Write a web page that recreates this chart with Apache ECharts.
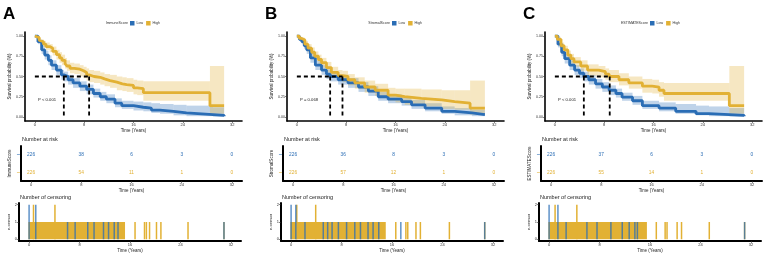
<!DOCTYPE html>
<html>
<head>
<meta charset="utf-8">
<script src="https://cdn.jsdelivr.net/npm/echarts@6.0.0/dist/echarts.min.js"></script>
<style>
  html, body { margin: 0; padding: 0; background: #fff; }
  #chart { width: 772px; height: 258px; }
</style>
</head>
<body>
<div id="chart"></div>
<script>
const LOW = '#2a6db5';
const HIGH = '#e2b134';

const panelLetters = ['A', 'B', 'C'];
const scoreNames = ['ImmuneScore', 'StromalScore', 'ESTIMATEScore'];
const pValues = ['P < 0.001', 'P = 0.068', 'P < 0.001'];
const groups = ['Low', 'High'];
const timeTicks = [0, 8, 16, 24, 32];
const survTicks = [0, 0.25, 0.5, 0.75, 1];
const censorTicks = [0, 1, 2];
const riskTimes = [0, 8, 16, 24, 32];

// KM curves: [time, survival, lower CI, upper CI]
const kmLowA = [
  [0, 1, 1, 1], [0.5, 0.93, 0.90, 0.96], [1.1, 0.83, 0.78, 0.88], [1.6, 0.765, 0.71, 0.82],
  [2.2, 0.70, 0.64, 0.76], [2.7, 0.64, 0.58, 0.70], [3.5, 0.58, 0.52, 0.64], [4.3, 0.52, 0.46, 0.58],
  [4.7, 0.50, 0.44, 0.56], [5.4, 0.46, 0.40, 0.52], [6.2, 0.42, 0.36, 0.48], [7.3, 0.38, 0.32, 0.44],
  [8.4, 0.34, 0.28, 0.40], [9.5, 0.29, 0.24, 0.35], [10.6, 0.25, 0.20, 0.31], [11.6, 0.22, 0.17, 0.28],
  [13.0, 0.17, 0.12, 0.23], [14.1, 0.14, 0.10, 0.20], [16.0, 0.12, 0.08, 0.19], [17.6, 0.11, 0.07, 0.18],
  [18.9, 0.085, 0.05, 0.17], [20.3, 0.07, 0.04, 0.16], [22.5, 0.05, 0.02, 0.15], [24.6, 0.03, 0.01, 0.14],
  [28.9, 0.02, 0.005, 0.12], [30.7, 0.01, 0, 0.10]
];
const kmHighA = [
  [0, 1, 1, 1], [0.3, 0.98, 0.96, 1], [0.7, 0.95, 0.92, 0.98], [1.0, 0.93, 0.89, 0.96],
  [1.4, 0.90, 0.86, 0.94], [1.8, 0.87, 0.83, 0.92], [2.4, 0.85, 0.80, 0.90], [2.9, 0.81, 0.76, 0.87],
  [3.5, 0.77, 0.71, 0.83], [4.0, 0.73, 0.67, 0.80], [4.4, 0.70, 0.64, 0.77], [4.9, 0.66, 0.60, 0.73],
  [5.2, 0.63, 0.57, 0.70], [5.7, 0.60, 0.54, 0.67], [6.4, 0.59, 0.53, 0.66], [7.3, 0.57, 0.50, 0.64],
  [7.9, 0.55, 0.48, 0.62], [8.4, 0.52, 0.45, 0.60], [8.8, 0.50, 0.43, 0.58], [9.6, 0.49, 0.42, 0.57],
  [10.6, 0.47, 0.40, 0.55], [11.3, 0.45, 0.38, 0.53], [12.2, 0.43, 0.36, 0.52], [13.3, 0.41, 0.33, 0.50],
  [14.2, 0.40, 0.32, 0.49], [14.9, 0.39, 0.31, 0.48], [16.0, 0.36, 0.28, 0.46], [16.6, 0.35, 0.27, 0.45],
  [17.6, 0.30, 0.20, 0.44], [28.4, 0.14, 0.04, 0.63], [30.7, 0.14, 0.04, 0.63]
];
const kmLowB = [
  [0, 1, 1, 1], [0.4, 0.96, 0.94, 0.99], [0.8, 0.93, 0.90, 0.96], [1.2, 0.88, 0.84, 0.92],
  [1.6, 0.83, 0.78, 0.88], [2.2, 0.73, 0.67, 0.79], [3.0, 0.64, 0.58, 0.70], [4.0, 0.58, 0.52, 0.64],
  [4.8, 0.53, 0.47, 0.59], [5.4, 0.50, 0.44, 0.56], [6.7, 0.46, 0.40, 0.52], [8.3, 0.42, 0.36, 0.48],
  [10.0, 0.37, 0.31, 0.43], [11.6, 0.32, 0.26, 0.38], [13.2, 0.25, 0.20, 0.31], [14.8, 0.22, 0.17, 0.28],
  [17.0, 0.19, 0.14, 0.25], [18.6, 0.15, 0.10, 0.21], [20.8, 0.11, 0.07, 0.17], [23.5, 0.07, 0.04, 0.13],
  [25.6, 0.05, 0.02, 0.11], [28.4, 0.03, 0.01, 0.09], [30.5, 0.03, 0.01, 0.09]
];
const kmHighB = [
  [0, 1, 1, 1], [0.4, 0.97, 0.95, 0.99], [0.8, 0.95, 0.92, 0.98], [1.3, 0.90, 0.86, 0.94],
  [1.8, 0.85, 0.80, 0.90], [2.4, 0.80, 0.75, 0.86], [2.9, 0.75, 0.69, 0.81], [3.5, 0.71, 0.65, 0.77],
  [4.0, 0.67, 0.61, 0.73], [4.8, 0.61, 0.55, 0.68], [5.6, 0.55, 0.49, 0.62], [6.7, 0.51, 0.45, 0.58],
  [7.4, 0.50, 0.43, 0.57], [8.3, 0.46, 0.39, 0.53], [9.4, 0.42, 0.35, 0.49], [11.0, 0.37, 0.30, 0.45],
  [12.7, 0.33, 0.26, 0.41], [14.8, 0.27, 0.20, 0.36], [16.0, 0.25, 0.18, 0.35], [17.5, 0.23, 0.15, 0.35],
  [20.2, 0.21, 0.13, 0.34], [23.5, 0.19, 0.10, 0.33], [25.6, 0.17, 0.09, 0.33], [28.1, 0.11, 0.03, 0.45],
  [30.5, 0.11, 0.03, 0.45]
];
const kmLowC = [
  [0, 1, 1, 1], [0.5, 0.90, 0.86, 0.94], [1.1, 0.80, 0.75, 0.85], [1.6, 0.72, 0.66, 0.78],
  [2.4, 0.64, 0.58, 0.70], [3.2, 0.58, 0.52, 0.64], [4.0, 0.54, 0.48, 0.60], [4.7, 0.50, 0.44, 0.56],
  [5.5, 0.46, 0.40, 0.52], [6.6, 0.41, 0.35, 0.47], [7.7, 0.37, 0.31, 0.43], [8.8, 0.33, 0.27, 0.39],
  [9.9, 0.29, 0.24, 0.35], [10.9, 0.245, 0.20, 0.30], [12.6, 0.20, 0.15, 0.26], [14.2, 0.14, 0.10, 0.20],
  [16.9, 0.11, 0.07, 0.18], [19.6, 0.07, 0.04, 0.16], [22.9, 0.04, 0.02, 0.14], [25.0, 0.03, 0.01, 0.13],
  [28.3, 0.02, 0.005, 0.11], [30.7, 0.01, 0, 0.10]
];
const kmHighC = [
  [0, 1, 1, 1], [0.4, 0.96, 0.94, 0.99], [1.0, 0.88, 0.84, 0.92], [1.5, 0.83, 0.78, 0.88],
  [2.1, 0.765, 0.71, 0.82], [2.6, 0.72, 0.66, 0.78], [3.1, 0.68, 0.62, 0.74], [4.2, 0.63, 0.57, 0.70],
  [5.3, 0.58, 0.51, 0.65], [7.1, 0.56, 0.49, 0.63], [8.2, 0.53, 0.46, 0.60], [8.8, 0.50, 0.43, 0.58],
  [10.4, 0.46, 0.39, 0.54], [12.0, 0.42, 0.35, 0.50], [14.2, 0.38, 0.30, 0.47], [15.8, 0.37, 0.29, 0.46],
  [16.9, 0.33, 0.25, 0.43], [17.7, 0.29, 0.20, 0.42], [28.3, 0.14, 0.04, 0.63], [30.7, 0.14, 0.04, 0.63]
];

// median survival [Low, High]
const mediansA = [4.7, 8.8];
const mediansB = [5.4, 7.4];
const mediansC = [4.7, 8.9];

// number at risk at riskTimes
const riskLowA = [226, 38, 6, 3, 0];
const riskHighA = [226, 54, 11, 1, 0];
const riskLowB = [226, 36, 8, 3, 0];
const riskHighB = [226, 57, 12, 1, 0];
const riskLowC = [226, 37, 6, 3, 0];
const riskHighC = [226, 55, 14, 1, 0];

// censoring: dense runs [from, to, count] and single events [time, count]
const censorRunA = [[0, 15.1, 1]];
const censorHighA = [[0.7, 2], [4.1, 2], [16.8, 1], [18.3, 1], [18.6, 1], [19.1, 1], [20.2, 1], [20.9, 1], [25.2, 1], [30.9, 1]];
const censorLowA = [[0, 2], [1.06, 2], [6.1, 1], [7.3, 1], [9.3, 1], [10.3, 1], [11.8, 1], [12.6, 1], [13.5, 1], [14.1, 1], [30.9, 1]];
const censorRunB = [[0, 14.9, 1]];
const censorHighB = [[0.9, 2], [3.9, 2], [16.6, 1], [18.2, 1], [18.5, 1], [19.8, 1], [20.5, 1], [25.1, 1], [30.7, 1]];
const censorLowB = [[0, 2], [0.75, 2], [2.2, 1], [5.1, 1], [5.8, 1], [6.5, 1], [7.5, 1], [8.8, 1], [10.1, 1], [11.0, 1], [12.2, 1], [13.0, 1], [13.9, 1], [17.4, 1], [30.7, 1]];
const censorRunC = [[0, 15.4, 1]];
const censorHighC = [[0.95, 2], [4.4, 2], [17.0, 1], [18.4, 1], [18.7, 1], [20.3, 1], [21.0, 1], [25.4, 1], [31.0, 1]];
const censorLowC = [[0, 2], [1.4, 2], [2.7, 1], [6.0, 1], [7.6, 1], [9.8, 1], [11.6, 1], [12.7, 1], [13.6, 1], [14.0, 1], [31.0, 1]];

const panels = [
  { km: [kmLowA, kmHighA], med: mediansA, risk: [riskLowA, riskHighA], run: censorRunA, cens: [censorLowA, censorHighA] },
  { km: [kmLowB, kmHighB], med: mediansB, risk: [riskLowB, riskHighB], run: censorRunB, cens: [censorLowB, censorHighB] },
  { km: [kmLowC, kmHighC], med: mediansC, risk: [riskLowC, riskHighC], run: censorRunC, cens: [censorLowC, censorHighC] }
];

const FONT = 'Liberation Sans, Arial, sans-serif';
const panelX = [0, 262, 520];
const colors = [LOW, HIGH];

const chart = echarts.init(document.getElementById('chart'));

const grids = [], xAxes = [], yAxes = [], series = [], graphics = [], legends = [];

const blackLine = w => ({ show: true, onZero: false, lineStyle: { color: '#000', width: w } });

function timeAxis(gi, lw, nameGap) {
  return {
    type: 'value', gridIndex: gi, min: -1.6, max: 33.6,
    axisLine: blackLine(lw),
    axisTick: { show: true, length: 2, customValues: timeTicks, lineStyle: { color: '#333', width: 0.6 } },
    axisLabel: { customValues: timeTicks, fontSize: 4, color: '#333', margin: 2, fontFamily: FONT },
    splitLine: { show: false },
    name: 'Time (Years)', nameLocation: 'middle', nameGap: nameGap,
    nameTextStyle: { fontSize: 4.5, color: '#222', fontFamily: FONT }
  };
}

function bandRects(rows) {
  const out = [];
  for (let i = 0; i < rows.length - 1; i++) out.push([rows[i][0], rows[i + 1][0], rows[i][2], rows[i][3]]);
  return out;
}

panels.forEach((p, i) => {
  const ox = panelX[i];
  const g = i * 3;

  grids.push({ left: ox + 25, top: 32, width: 217, height: 89 });
  grids.push({ left: ox + 21, top: 146, width: 221, height: 35 });
  grids.push({ left: ox + 19, top: 203, width: 222, height: 38 });

  // survival plot axes
  xAxes.push(timeAxis(g, 1.6, 6));
  yAxes.push({
    type: 'value', gridIndex: g, min: -0.05, max: 1.05,
    axisLine: blackLine(1.6),
    axisTick: { show: true, length: 2, customValues: survTicks, lineStyle: { color: '#333', width: 0.6 } },
    axisLabel: { customValues: survTicks, fontSize: 3.6, color: '#333', margin: 2, fontFamily: FONT, formatter: v => v.toFixed(2) },
    splitLine: { show: false },
    name: 'Survival probability (%)', nameLocation: 'middle', nameGap: 11,
    nameTextStyle: { fontSize: 4.5, color: '#222', fontFamily: FONT }
  });

  // risk table axes
  xAxes.push(timeAxis(g + 1, 2, 6));
  yAxes.push({
    type: 'category', gridIndex: g + 1, data: groups, inverse: true,
    axisLine: blackLine(2), axisTick: { show: false },
    axisLabel: {
      margin: 1,
      formatter: v => v === 'Low' ? '{l|–}' : '{h|–}',
      rich: { l: { color: LOW, fontSize: 6, fontWeight: 'bold' }, h: { color: HIGH, fontSize: 6, fontWeight: 'bold' } }
    },
    name: scoreNames[i], nameLocation: 'middle', nameGap: 6,
    nameTextStyle: { fontSize: 4.5, color: '#222', fontFamily: FONT }
  });

  // censoring axes
  xAxes.push(timeAxis(g + 2, 2, 5));
  yAxes.push({
    type: 'value', gridIndex: g + 2, min: -0.1, max: 2.1,
    axisLine: blackLine(2),
    axisTick: { show: true, length: 2, customValues: censorTicks, lineStyle: { color: '#333', width: 0.6 } },
    axisLabel: { customValues: censorTicks, fontSize: 4, color: '#333', margin: 2, fontFamily: FONT },
    splitLine: { show: false },
    name: 'n.censor', nameLocation: 'middle', nameGap: 6,
    nameTextStyle: { fontSize: 4.2, color: '#222', fontFamily: FONT }
  });

  // confidence bands
  p.km.forEach((rows, k) => {
    series.push({
      type: 'custom', name: groups[k] + ' CI', xAxisIndex: g, yAxisIndex: g,
      data: bandRects(rows), silent: true, z: 1,
      renderItem: (params, api) => {
        const a = api.coord([api.value(0), api.value(3)]);
        const b = api.coord([api.value(1), api.value(2)]);
        return { type: 'rect', shape: { x: a[0], y: a[1], width: b[0] - a[0], height: b[1] - a[1] },
                 style: { fill: colors[k], opacity: 0.3 } };
      }
    });
  });

  // survival curves
  p.km.forEach((rows, k) => {
    series.push({
      type: 'line', name: groups[k], xAxisIndex: g, yAxisIndex: g, step: 'end',
      data: rows.map(r => [r[0], r[1]]), showSymbol: false, symbol: 'none',
      lineStyle: { color: colors[k], width: 2.8 }, itemStyle: { color: colors[k] }, z: 3
    });
  });

  // median lines
  const mMax = Math.max(...p.med);
  const dash = { color: '#000', width: 1.8, type: [4, 3] };
  series.push({ type: 'line', xAxisIndex: g, yAxisIndex: g, data: [[0, 0.5], [mMax, 0.5]], symbol: 'none', lineStyle: dash, z: 4, silent: true });
  p.med.forEach(m => {
    series.push({ type: 'line', xAxisIndex: g, yAxisIndex: g, data: [[m, 0.5], [m, 0]], symbol: 'none', lineStyle: dash, z: 4, silent: true });
  });

  // number at risk
  p.risk.forEach((vals, k) => {
    series.push({
      type: 'custom', xAxisIndex: g + 1, yAxisIndex: g + 1, silent: true,
      data: vals.map((n, j) => [riskTimes[j], groups[k], n]),
      renderItem: (params, api) => {
        const c = api.coord([api.value(0), api.value(1)]);
        return { type: 'text', x: c[0], y: c[1],
                 style: { text: String(api.value(2)), fill: colors[k], font: '4.8px ' + FONT, textAlign: 'center', textVerticalAlign: 'middle' } };
      }
    });
  });

  // censoring: dense run (High group)
  series.push({
    type: 'custom', xAxisIndex: g + 2, yAxisIndex: g + 2, silent: true, z: 2,
    data: p.run,
    renderItem: (params, api) => {
      const a = api.coord([api.value(0), api.value(2)]);
      const b = api.coord([api.value(1), 0]);
      return { type: 'rect', shape: { x: a[0] - 0.7, y: a[1], width: b[0] - a[0] + 1.4, height: b[1] - a[1] }, style: { fill: HIGH } };
    }
  });
  // censoring single events, High then Low on top
  [1, 0].forEach(k => {
    series.push({
      type: 'custom', xAxisIndex: g + 2, yAxisIndex: g + 2, silent: true, z: 3,
      data: p.cens[k],
      renderItem: (params, api) => {
        const a = api.coord([api.value(0), api.value(1)]);
        const b = api.coord([api.value(0), 0]);
        return { type: 'rect', shape: { x: a[0] - 0.75, y: a[1], width: 1.5, height: b[1] - a[1] },
                 style: { fill: colors[k], opacity: k === 0 ? 0.75 : 1 } };
      }
    });
  });

  legends.push({
    left: ox + 130, top: 21, padding: 0, icon: 'rect', itemWidth: 4.5, itemHeight: 4.5, itemGap: 3,
    selectedMode: false,
    textStyle: { fontSize: 3.6, color: '#333', fontFamily: FONT, padding: [0, 0, 0, -3] },
    data: [{ name: 'Low', itemStyle: { color: LOW } }, { name: 'High', itemStyle: { color: HIGH } }]
  });

  graphics.push(
    { type: 'text', x: ox + 3, y: 14, style: { text: panelLetters[i], font: 'bold 17px ' + FONT, fill: '#000', textVerticalAlign: 'middle' } },
    { type: 'text', x: ox + 128, y: 23.3, style: { text: scoreNames[i], font: '3.6px ' + FONT, fill: '#333', textAlign: 'right', textVerticalAlign: 'middle' } },
    { type: 'text', x: ox + 38, y: 100, style: { text: pValues[i], font: '4.2px ' + FONT, fill: '#222', textVerticalAlign: 'middle' } },
    { type: 'text', x: ox + 22, y: 139, style: { text: 'Number at risk', font: '5.5px ' + FONT, fill: '#222', textVerticalAlign: 'middle' } },
    { type: 'text', x: ox + 20, y: 197, style: { text: 'Number of censoring', font: '5.5px ' + FONT, fill: '#222', textVerticalAlign: 'middle' } }
  );
});

chart.setOption({
  animation: false,
  textStyle: { fontFamily: FONT },
  grid: grids,
  xAxis: xAxes,
  yAxis: yAxes,
  legend: legends,
  graphic: graphics,
  series: series
});
</script>
</body>
</html>
